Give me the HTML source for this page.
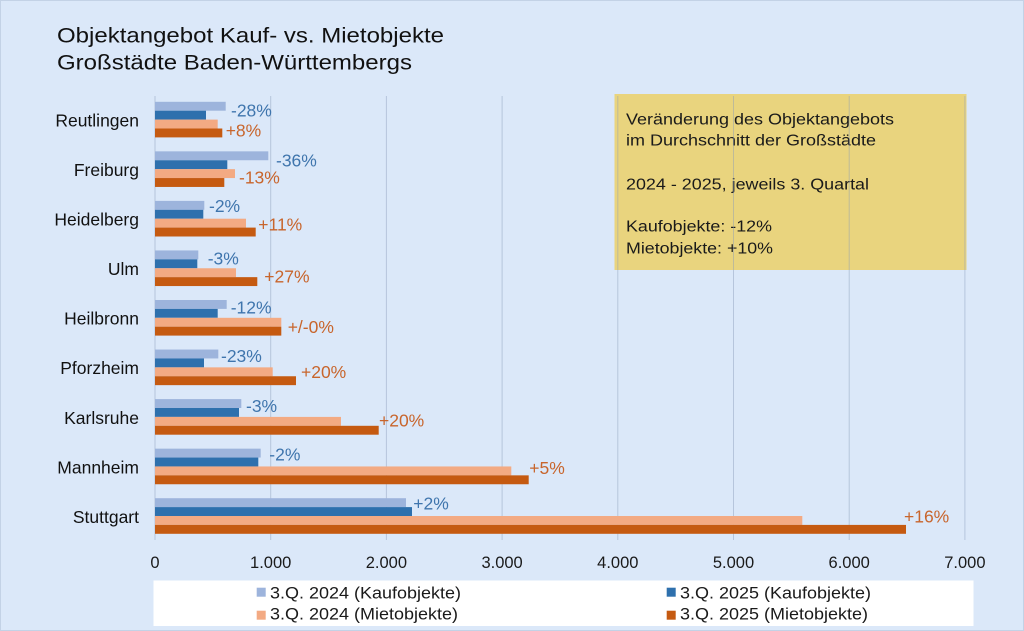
<!DOCTYPE html>
<html><head><meta charset="utf-8"><style>
html,body{margin:0;padding:0;background:#dbe8f9;}
svg{display:block;}
text{font-family:"Liberation Sans",Arial,sans-serif;}
</style></head><body>
<svg width="1024" height="631" viewBox="0 0 1024 631" xmlns="http://www.w3.org/2000/svg">
<rect x="0" y="0" width="1024" height="631" fill="#dbe8f9"/>
<rect x="0.5" y="0.5" width="1023" height="630" fill="none" stroke="#c3d2e6" stroke-width="1"/>
<!-- title -->
<text x="57" y="42.5" font-size="21" fill="#111" textLength="387" lengthAdjust="spacingAndGlyphs">Objektangebot Kauf- vs. Mietobjekte</text>
<text x="57" y="69.5" font-size="21" fill="#111" textLength="355" lengthAdjust="spacingAndGlyphs">Großstädte Baden-Württembergs</text>
<!-- info box -->
<rect x="614.5" y="94" width="352" height="176" fill="#e9d47e"/>
<g font-size="15.5" fill="#1a1a1a">
<text x="626" y="124.3" textLength="268" lengthAdjust="spacingAndGlyphs">Veränderung des Objektangebots</text>
<text x="626" y="145.5" textLength="250" lengthAdjust="spacingAndGlyphs">im Durchschnitt der Großstädte</text>
<text x="626" y="189.3" textLength="243" lengthAdjust="spacingAndGlyphs">2024 - 2025, jeweils 3. Quartal</text>
<text x="626" y="231.7" textLength="146" lengthAdjust="spacingAndGlyphs">Kaufobjekte: -12%</text>
<text x="626" y="253.3" textLength="147" lengthAdjust="spacingAndGlyphs">Mietobjekte: +10%</text>
</g>
<!-- gridlines -->
<g stroke="#8a9cb8" stroke-opacity="0.45" stroke-width="1">
<line x1="270.7" y1="96" x2="270.7" y2="540"/>
<line x1="386.4" y1="96" x2="386.4" y2="540"/>
<line x1="502.1" y1="96" x2="502.1" y2="540"/>
<line x1="617.8" y1="96" x2="617.8" y2="540"/>
<line x1="733.5" y1="96" x2="733.5" y2="540"/>
<line x1="849.2" y1="96" x2="849.2" y2="540"/>
<line x1="964.9" y1="96" x2="964.9" y2="540"/>
<line x1="155" y1="96" x2="155" y2="540"/>
</g>
<!-- bars: group top = center - 17.8, bar h 8.9 -->
<g>
<!-- Reutlingen c=119.6 -->
<rect x="155" y="101.8" width="70.7" height="8.9" fill="#9db4dc"/>
<rect x="155" y="110.7" width="51" height="8.9" fill="#2e70ad"/>
<rect x="155" y="119.6" width="62.7" height="8.9" fill="#f3aa83"/>
<rect x="155" y="128.5" width="67.3" height="8.9" fill="#c55a11"/>
<!-- Freiburg c=169.15 -->
<rect x="155" y="151.35" width="113.3" height="8.9" fill="#9db4dc"/>
<rect x="155" y="160.25" width="72.3" height="8.9" fill="#2e70ad"/>
<rect x="155" y="169.15" width="80" height="8.9" fill="#f3aa83"/>
<rect x="155" y="178.05" width="69.3" height="8.9" fill="#c55a11"/>
<!-- Heidelberg c=218.7 -->
<rect x="155" y="200.9" width="49.3" height="8.9" fill="#9db4dc"/>
<rect x="155" y="209.8" width="48.3" height="8.9" fill="#2e70ad"/>
<rect x="155" y="218.7" width="91" height="8.9" fill="#f3aa83"/>
<rect x="155" y="227.6" width="100.7" height="8.9" fill="#c55a11"/>
<!-- Ulm c=268.25 -->
<rect x="155" y="250.45" width="43.3" height="8.9" fill="#9db4dc"/>
<rect x="155" y="259.35" width="42.3" height="8.9" fill="#2e70ad"/>
<rect x="155" y="268.25" width="81" height="8.9" fill="#f3aa83"/>
<rect x="155" y="277.15" width="102.3" height="8.9" fill="#c55a11"/>
<!-- Heilbronn c=317.8 -->
<rect x="155" y="300" width="71.7" height="8.9" fill="#9db4dc"/>
<rect x="155" y="308.9" width="62.7" height="8.9" fill="#2e70ad"/>
<rect x="155" y="317.8" width="126.3" height="8.9" fill="#f3aa83"/>
<rect x="155" y="326.7" width="126.3" height="8.9" fill="#c55a11"/>
<!-- Pforzheim c=367.35 -->
<rect x="155" y="349.55" width="63.3" height="8.9" fill="#9db4dc"/>
<rect x="155" y="358.45" width="49" height="8.9" fill="#2e70ad"/>
<rect x="155" y="367.35" width="117.7" height="8.9" fill="#f3aa83"/>
<rect x="155" y="376.25" width="141" height="8.9" fill="#c55a11"/>
<!-- Karlsruhe c=416.9 -->
<rect x="155" y="399.1" width="86.3" height="8.9" fill="#9db4dc"/>
<rect x="155" y="408" width="84" height="8.9" fill="#2e70ad"/>
<rect x="155" y="416.9" width="186" height="8.9" fill="#f3aa83"/>
<rect x="155" y="425.8" width="223.7" height="8.9" fill="#c55a11"/>
<!-- Mannheim c=466.45 -->
<rect x="155" y="448.65" width="105.7" height="8.9" fill="#9db4dc"/>
<rect x="155" y="457.55" width="103.3" height="8.9" fill="#2e70ad"/>
<rect x="155" y="466.45" width="356.3" height="8.9" fill="#f3aa83"/>
<rect x="155" y="475.35" width="373.7" height="8.9" fill="#c55a11"/>
<!-- Stuttgart c=516 -->
<rect x="155" y="498.2" width="251" height="8.9" fill="#9db4dc"/>
<rect x="155" y="507.1" width="257" height="8.9" fill="#2e70ad"/>
<rect x="155" y="516" width="647.3" height="8.9" fill="#f3aa83"/>
<rect x="155" y="524.9" width="751" height="8.9" fill="#c55a11"/>
</g>
<!-- category labels -->
<g font-size="17.5" fill="#111" text-anchor="end">
<text x="139" y="126.5">Reutlingen</text>
<text x="139" y="176">Freiburg</text>
<text x="139" y="225.6">Heidelberg</text>
<text x="139" y="275.1">Ulm</text>
<text x="139" y="324.7">Heilbronn</text>
<text x="139" y="374.2">Pforzheim</text>
<text x="139" y="423.8">Karlsruhe</text>
<text x="139" y="473.3">Mannheim</text>
<text x="139" y="523">Stuttgart</text>
</g>
<!-- data labels -->
<g font-size="17.5" fill="#3f75ad">
<text x="231" y="116.3">-28%</text>
<text x="276" y="166.3">-36%</text>
<text x="209" y="212">-2%</text>
<text x="207.7" y="264.3">-3%</text>
<text x="230.7" y="313.6">-12%</text>
<text x="221" y="362">-23%</text>
<text x="246" y="412">-3%</text>
<text x="269.3" y="460.3">-2%</text>
<text x="413.3" y="509.6">+2%</text>
</g>
<g font-size="17.5" fill="#c8652c">
<text x="225.7" y="136.6">+8%</text>
<text x="239" y="183.3">-13%</text>
<text x="258.3" y="230.3">+11%</text>
<text x="264.3" y="282.3">+27%</text>
<text x="287.7" y="333">+/-0%</text>
<text x="301" y="378">+20%</text>
<text x="379" y="426.3">+20%</text>
<text x="529.3" y="474">+5%</text>
<text x="904" y="522.3">+16%</text>
</g>
<!-- x axis tick labels -->
<g font-size="16.5" fill="#1a1a1a" text-anchor="middle">
<text x="155" y="568">0</text>
<text x="270.7" y="568">1.000</text>
<text x="386.4" y="568">2.000</text>
<text x="502.1" y="568">3.000</text>
<text x="617.8" y="568">4.000</text>
<text x="733.5" y="568">5.000</text>
<text x="849.2" y="568">6.000</text>
<text x="964.9" y="568">7.000</text>
</g>
<!-- legend -->
<rect x="153.5" y="580.5" width="820" height="45.5" fill="#ffffff"/>
<rect x="256.7" y="587.7" width="9" height="9" fill="#9db4dc"/>
<rect x="666.7" y="587.7" width="9" height="9" fill="#2e70ad"/>
<rect x="256.7" y="610.7" width="9" height="9" fill="#f3aa83"/>
<rect x="666.7" y="610.7" width="9" height="9" fill="#c55a11"/>
<g font-size="16.5" fill="#1a1a1a">
<text x="270" y="598.3" textLength="191" lengthAdjust="spacingAndGlyphs">3.Q. 2024 (Kaufobjekte)</text>
<text x="680" y="598.3" textLength="191" lengthAdjust="spacingAndGlyphs">3.Q. 2025 (Kaufobjekte)</text>
<text x="270" y="619.3" textLength="188" lengthAdjust="spacingAndGlyphs">3.Q. 2024 (Mietobjekte)</text>
<text x="680" y="619.3" textLength="188" lengthAdjust="spacingAndGlyphs">3.Q. 2025 (Mietobjekte)</text>
</g>
</svg>
</body></html>
